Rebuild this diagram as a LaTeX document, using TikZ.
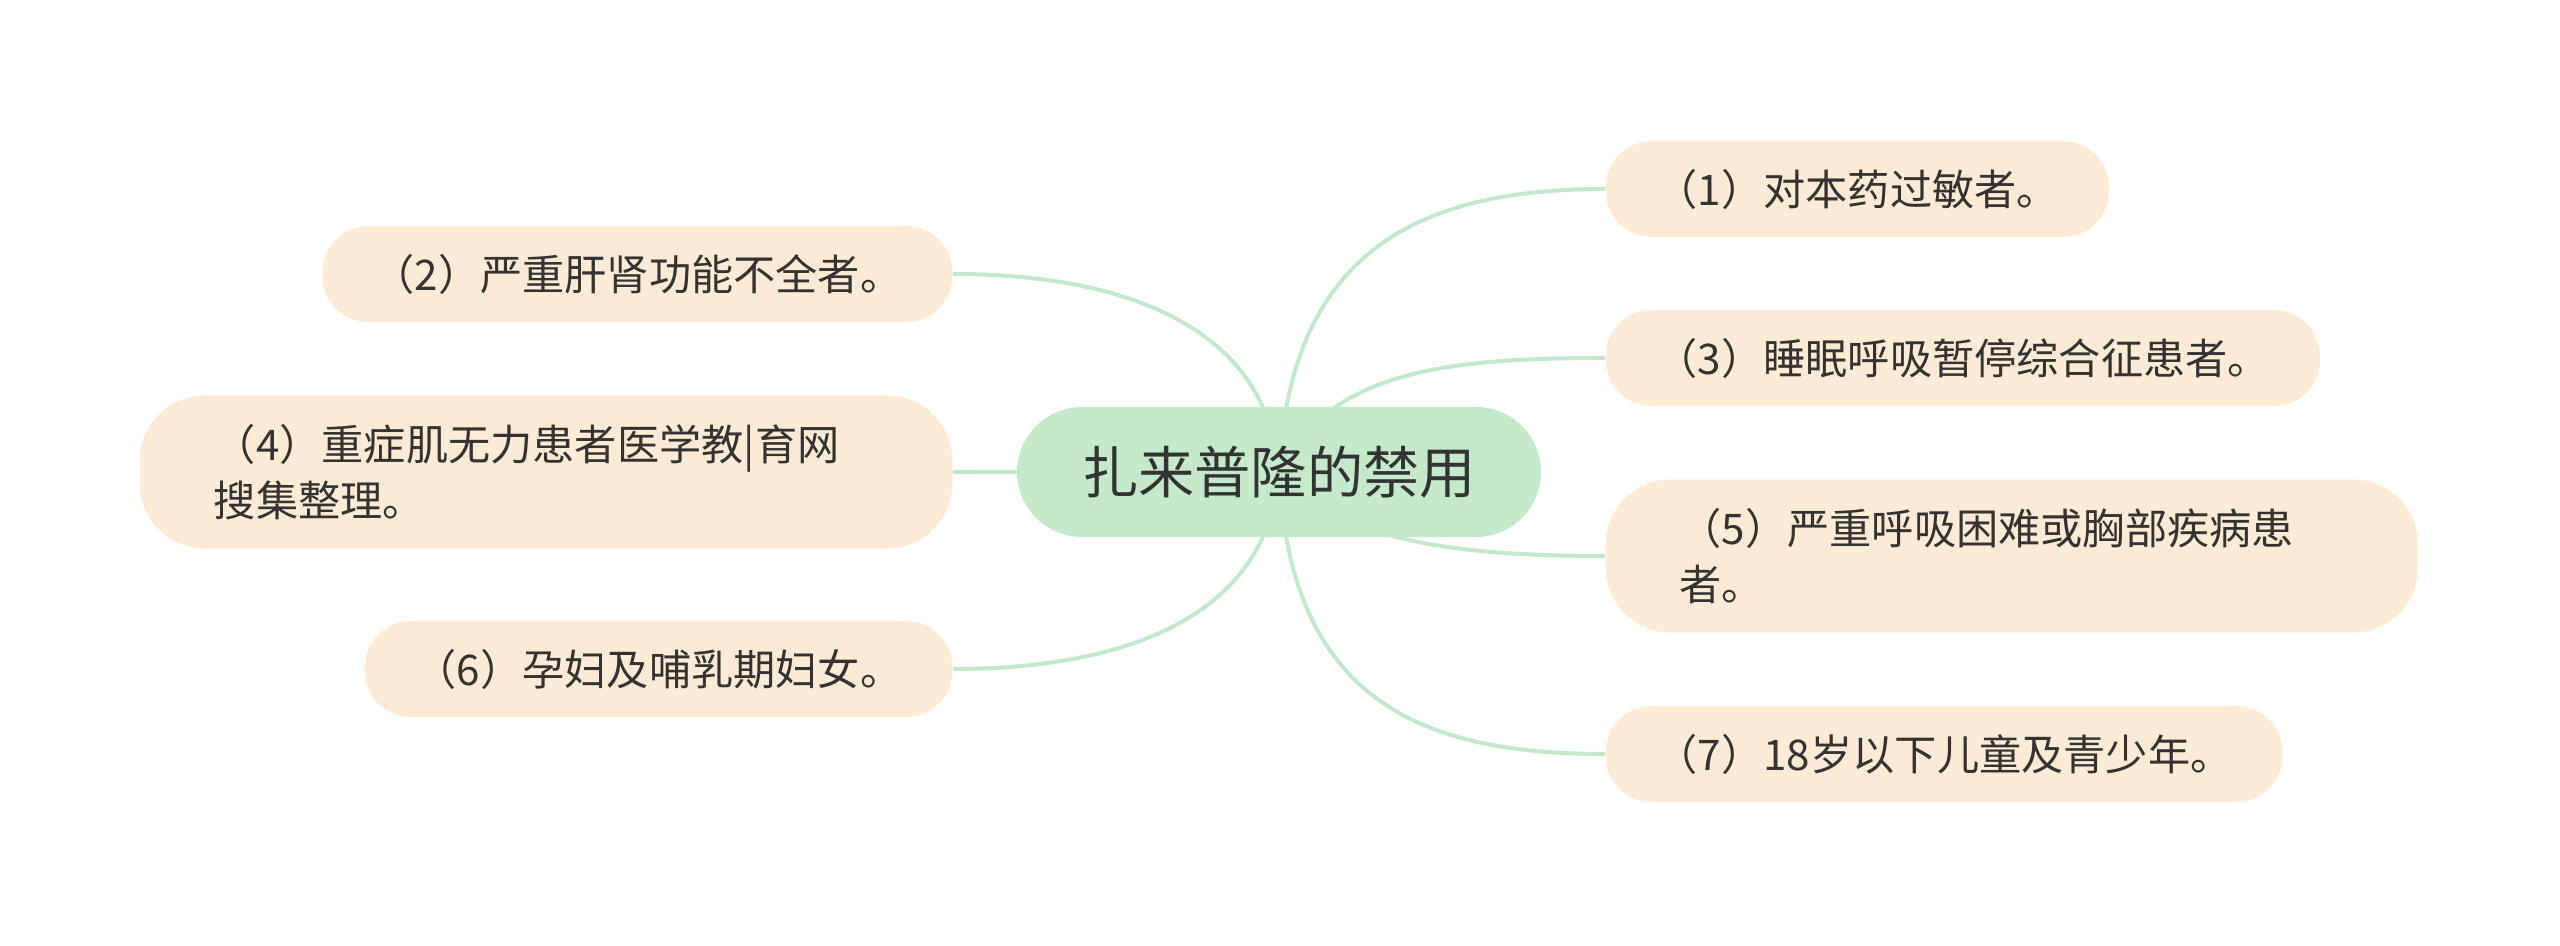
\documentclass[tikz,border=0pt]{standalone}
\usepackage{fontspec}
\setmainfont{Noto Sans CJK SC}
\usepackage{tikz}
\usetikzlibrary{backgrounds}
\definecolor{cText}{HTML}{333333}
\definecolor{cRoot}{HTML}{C5EACB}
\definecolor{cLeaf}{HTML}{FDEBD5}
\definecolor{cLink}{HTML}{C4E8CB}
\tikzset{
  rootblk/.style={fill=cRoot, rounded corners=0.65cm, minimum height=1.30cm,
                  inner xsep=0.65cm, text=cText, font=\fontsize{16}{20}\selectfont},
  leafblk/.style={fill=cLeaf, rounded corners=0.46cm, minimum height=0.96cm,
                  inner xsep=0.5cm, text=cText, font=\fontsize{12}{16}\selectfont},
  wideblk/.style={leafblk, rounded corners=0.65cm, minimum height=1.53cm,
                  inner xsep=0.74cm, text width=6.64cm, align=left},
  link/.style={draw=cLink, line width=1.15pt}
}

\begin{document}
\begin{tikzpicture}[x=0.01cm, y=-0.01cm]
\useasboundingbox (0,0) rectangle (2560,946);
% centre topic
\node[rootblk] (root) at (1279,472) {扎来普隆的禁用};
% right side
\node[leafblk, anchor=west] (n1) at (1605,189) {（1）对本药过敏者。};
\node[leafblk, anchor=west] (n3) at (1605,358) {（3）睡眠呼吸暂停综合征患者。};
\node[wideblk, anchor=west] (n5) at (1605,556) {（5）严重呼吸困难或胸部疾病患\\者。};
\node[leafblk, anchor=west] (n7) at (1605,754) {（7）18岁以下儿童及青少年。};
% left side
\node[leafblk, anchor=east] (n2) at (953,274) {（2）严重肝肾功能不全者。};
\node[wideblk, anchor=east] (n4) at (953,472) {（4）重症肌无力患者医学教|育网\\搜集整理。};
\node[leafblk, anchor=east] (n6) at (953,669) {（6）孕妇及哺乳期妇女。};
% branches, behind the boxes
\begin{scope}[on background layer]
\draw[link] (root.center) .. controls +(11,-222) and +(-185,0) .. (n1.west);
\draw[link] (root.center) .. controls +(51,-102) and +(-155,0) .. (n3.west);
\draw[link] (root.center) .. controls +(61,68) and +(-155,0) .. (n5.west);
\draw[link] (root.center) .. controls +(11,228) and +(-185,0) .. (n7.west);
\draw[link] (root.center) .. controls +(-11,-142) and +(177,0) .. (n2.east);
\draw[link] (root.center) -- (n4.east);
\draw[link] (root.center) .. controls +(-11,142) and +(177,0) .. (n6.east);
\end{scope}
\end{tikzpicture}
\end{document}
